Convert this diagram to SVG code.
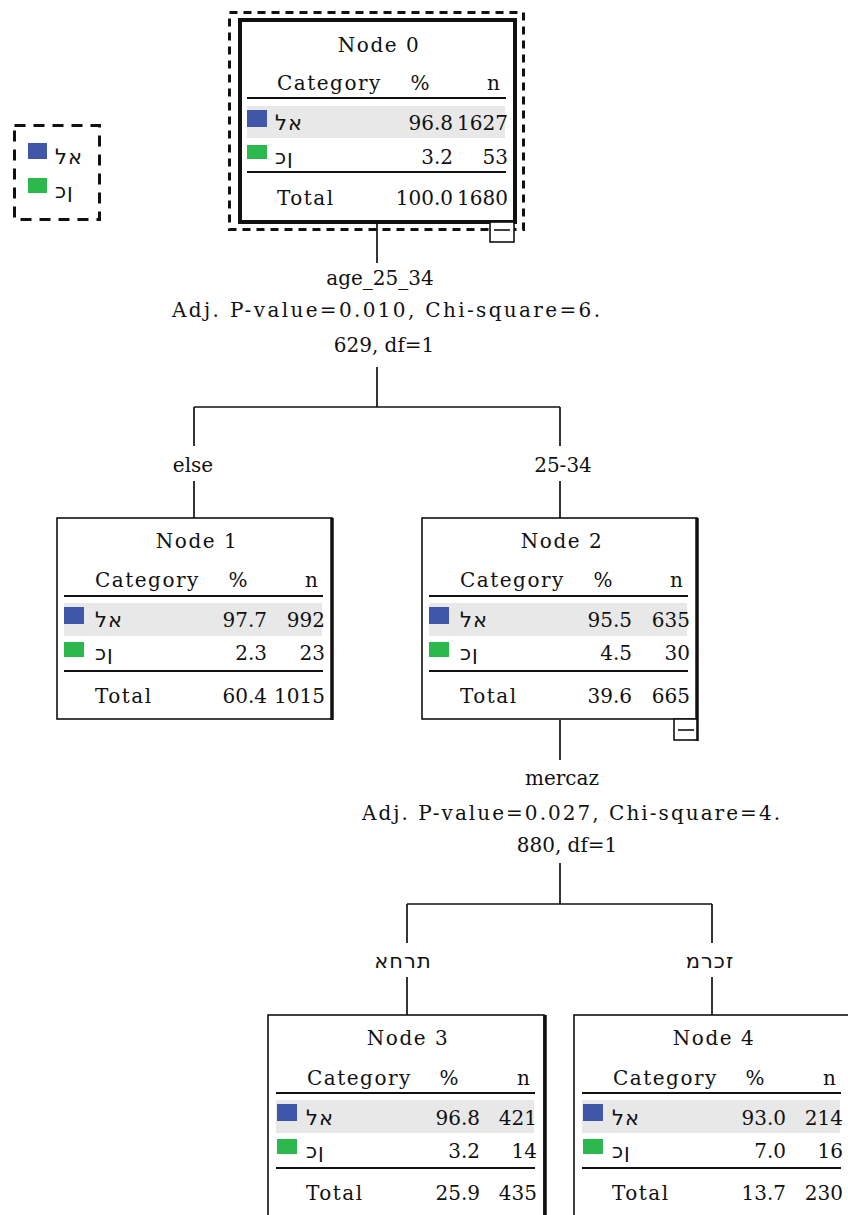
<svg xmlns="http://www.w3.org/2000/svg" width="848" height="1215" viewBox="0 0 848 1215">
<style>
text{font-family:"DejaVu Serif","Liberation Serif",serif;font-size:20px;fill:#111}
.t{letter-spacing:1.5px}
.he{font-family:"DejaVu Sans","Liberation Sans","Noto Sans",sans-serif;font-size:21px;direction:ltr;unicode-bidi:bidi-override;letter-spacing:1px}
.m{text-anchor:middle}
.e{text-anchor:end}
.box{fill:#fff;stroke:#111;stroke-width:1.6}
.sh{stroke:#111;stroke-width:3.5}
.rule{stroke:#111;stroke-width:2}
.gray{fill:#e8e8e8}
.blue{fill:#3f56a9}
.green{fill:#2cb84c}
.con line{stroke:#111;stroke-width:1.7}
.tog{fill:#fff;stroke:#111;stroke-width:1.6}
</style>

<g id="legend">
<rect x="14.5" y="125.5" width="85" height="94" fill="none" stroke="#111" stroke-width="3" stroke-dasharray="11,8"/>
<rect class="blue" x="28" y="143" width="19" height="16"/>
<text class="he" x="55" y="164">לא</text>
<rect class="green" x="28" y="178" width="19" height="15"/>
<text class="he" x="55" y="198">כן</text>
</g>

<g id="connectors" class="con">
<line x1="377" y1="222" x2="377" y2="263"/>
<line x1="377" y1="367" x2="377" y2="407"/>
<line x1="194" y1="407" x2="560" y2="407"/>
<line x1="194" y1="407" x2="194" y2="446"/>
<line x1="194" y1="481" x2="194" y2="518"/>
<line x1="560" y1="407" x2="560" y2="446"/>
<line x1="560" y1="481" x2="560" y2="518"/>
<line x1="560" y1="720" x2="560" y2="760"/>
<line x1="560" y1="863" x2="560" y2="904"/>
<line x1="407" y1="904" x2="712" y2="904"/>
<line x1="407" y1="904" x2="407" y2="943"/>
<line x1="407" y1="977" x2="407" y2="1015"/>
<line x1="712" y1="904" x2="712" y2="943"/>
<line x1="712" y1="977" x2="712" y2="1015"/>
</g>

<g id="labels">
<text class="m" x="380" y="285">age_25_34</text>
<text x="172" y="317" textLength="428" lengthAdjust="spacing">Adj. P-value=0.010, Chi-square=6.</text>
<text class="m" x="384" y="352">629, df=1</text>
<text class="m" x="193" y="472">else</text>
<text class="m" x="563" y="472">25-34</text>
<text class="m" x="562" y="785">mercaz</text>
<text x="362" y="820" textLength="418" lengthAdjust="spacing">Adj. P-value=0.027, Chi-square=4.</text>
<text class="m" x="567" y="852">880, df=1</text>
<text class="he m" x="403" y="968">אחרת</text>
<text class="he m" x="710" y="968">מרכז</text>
</g>

<g id="node0">
<rect x="229.5" y="12.5" width="294" height="217" fill="none" stroke="#111" stroke-width="3" stroke-dasharray="8,6"/>
<rect x="240" y="20" width="275" height="202" fill="#fff" stroke="#111" stroke-width="4"/>
<text class="m t" x="379" y="52">Node 0</text>
<text class="t" x="277" y="90">Category</text>
<text class="m" x="420" y="90">%</text>
<text class="e" x="500" y="90">n</text>
<line class="rule" x1="247" y1="98" x2="506" y2="98"/>
<rect class="gray" x="247" y="106" width="258" height="32"/>
<rect class="blue" x="247" y="110" width="20" height="17"/>
<text class="he" x="275" y="130">לא</text>
<text class="e" x="453" y="130">96.8</text>
<text class="e" x="508" y="130">1627</text>
<rect class="green" x="247" y="145" width="20" height="14"/>
<text class="he" x="275" y="164">כן</text>
<text class="e" x="453" y="164">3.2</text>
<text class="e" x="508" y="164">53</text>
<line class="rule" x1="247" y1="172" x2="506" y2="172"/>
<text class="t" x="277" y="205">Total</text>
<text class="e" x="453" y="205">100.0</text>
<text class="e" x="508" y="205">1680</text>
<rect class="tog" x="490" y="222" width="24" height="20"/>
<line x1="494" y1="230" x2="510" y2="230" stroke="#111" stroke-width="1.6"/>
</g>

<g id="node1">
<rect class="box" x="57" y="518" width="275" height="201"/>
<line class="sh" x1="332" y1="518" x2="332" y2="720"/>
<text class="m t" x="197" y="548">Node 1</text>
<text class="t" x="95" y="587">Category</text>
<text class="m" x="238" y="587">%</text>
<text class="e" x="318" y="587">n</text>
<line class="rule" x1="64" y1="596" x2="323" y2="596"/>
<rect class="gray" x="64" y="603" width="258" height="33"/>
<rect class="blue" x="64" y="607" width="20" height="17"/>
<text class="he" x="95" y="627">לא</text>
<text class="e" x="267" y="627">97.7</text>
<text class="e" x="325" y="627">992</text>
<rect class="green" x="64" y="642" width="20" height="15"/>
<text class="he" x="95" y="660">כן</text>
<text class="e" x="267" y="660">2.3</text>
<text class="e" x="325" y="660">23</text>
<line class="rule" x1="64" y1="671" x2="323" y2="671"/>
<text class="t" x="95" y="703">Total</text>
<text class="e" x="267" y="703">60.4</text>
<text class="e" x="325" y="703">1015</text>
</g>

<g id="node2">
<rect class="box" x="422" y="518" width="275" height="201"/>
<line class="sh" x1="697" y1="518" x2="697" y2="741"/>
<text class="m t" x="562" y="548">Node 2</text>
<text class="t" x="460" y="587">Category</text>
<text class="m" x="603" y="587">%</text>
<text class="e" x="683" y="587">n</text>
<line class="rule" x1="429" y1="596" x2="688" y2="596"/>
<rect class="gray" x="429" y="603" width="258" height="33"/>
<rect class="blue" x="429" y="607" width="20" height="17"/>
<text class="he" x="460" y="627">לא</text>
<text class="e" x="632" y="627">95.5</text>
<text class="e" x="690" y="627">635</text>
<rect class="green" x="429" y="642" width="20" height="15"/>
<text class="he" x="460" y="660">כן</text>
<text class="e" x="632" y="660">4.5</text>
<text class="e" x="690" y="660">30</text>
<line class="rule" x1="429" y1="671" x2="688" y2="671"/>
<text class="t" x="460" y="703">Total</text>
<text class="e" x="632" y="703">39.6</text>
<text class="e" x="690" y="703">665</text>
<rect class="tog" x="674" y="719" width="23" height="21"/>
<line x1="678" y1="730" x2="694" y2="730" stroke="#111" stroke-width="1.6"/>
</g>

<g id="node3">
<rect class="box" x="268" y="1015" width="276" height="201"/>
<line class="sh" x1="545" y1="1015" x2="545" y2="1216"/>
<text class="m t" x="408" y="1045">Node 3</text>
<text class="t" x="307" y="1085">Category</text>
<text class="m" x="449" y="1085">%</text>
<text class="e" x="530" y="1085">n</text>
<line class="rule" x1="276" y1="1093" x2="535" y2="1093"/>
<rect class="gray" x="276" y="1100" width="258" height="33"/>
<rect class="blue" x="277" y="1104" width="20" height="17"/>
<text class="he" x="306" y="1125">לא</text>
<text class="e" x="480" y="1125">96.8</text>
<text class="e" x="537" y="1125">421</text>
<rect class="green" x="277" y="1139" width="20" height="15"/>
<text class="he" x="306" y="1158">כן</text>
<text class="e" x="480" y="1158">3.2</text>
<text class="e" x="537" y="1158">14</text>
<line class="rule" x1="276" y1="1168" x2="535" y2="1168"/>
<text class="t" x="306" y="1200">Total</text>
<text class="e" x="480" y="1200">25.9</text>
<text class="e" x="537" y="1200">435</text>
</g>

<g id="node4">
<rect class="box" x="574" y="1015" width="276" height="201"/>
<text class="m t" x="714" y="1045">Node 4</text>
<text class="t" x="613" y="1085">Category</text>
<text class="m" x="755" y="1085">%</text>
<text class="e" x="836" y="1085">n</text>
<line class="rule" x1="582" y1="1093" x2="841" y2="1093"/>
<rect class="gray" x="582" y="1100" width="258" height="33"/>
<rect class="blue" x="583" y="1104" width="20" height="17"/>
<text class="he" x="612" y="1125">לא</text>
<text class="e" x="786" y="1125">93.0</text>
<text class="e" x="843" y="1125">214</text>
<rect class="green" x="583" y="1139" width="20" height="15"/>
<text class="he" x="612" y="1158">כן</text>
<text class="e" x="786" y="1158">7.0</text>
<text class="e" x="843" y="1158">16</text>
<line class="rule" x1="582" y1="1168" x2="841" y2="1168"/>
<text class="t" x="612" y="1200">Total</text>
<text class="e" x="786" y="1200">13.7</text>
<text class="e" x="843" y="1200">230</text>
</g>
</svg>
